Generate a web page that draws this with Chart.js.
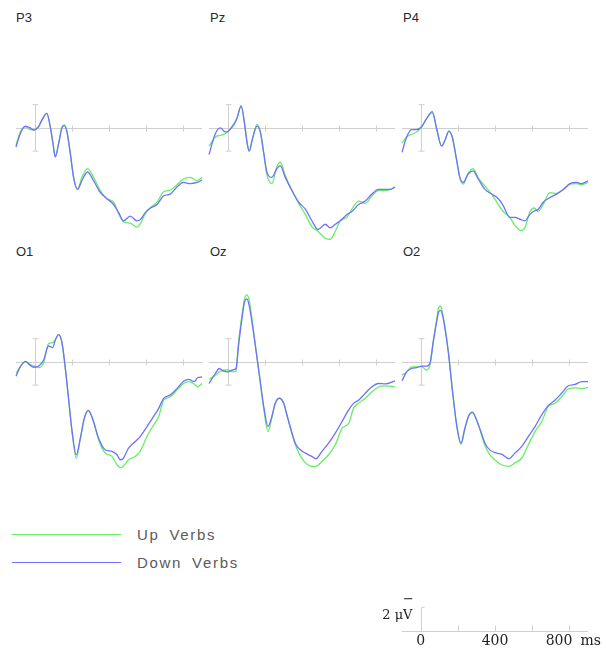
<!DOCTYPE html>
<html>
<head>
<meta charset="utf-8">
<script src="https://cdn.jsdelivr.net/npm/chart.js@4.4.1/dist/chart.umd.min.js"></script>
<style>
  body { margin: 0; background: #fff; width: 606px; height: 648px; position: relative; overflow: hidden; font-family: 'Liberation Sans', Arial, sans-serif; }
  canvas { position: absolute; }
  .chan { position: absolute; font-size: 13px; line-height: 13px; color: #2a2a2a; }
  .leg-line { position: absolute; left: 12px; width: 109px; height: 0; border-top: 1.3px solid; }
  .leg-text { position: absolute; left: 137px; font-size: 15px; line-height: 15px; letter-spacing: 1.7px; word-spacing: 4px; color: #5a5a5a; }
</style>
</head>
<body>
<div class="chan" style="left:16px; top:11px">P3</div>
<div class="chan" style="left:210px; top:11px">Pz</div>
<div class="chan" style="left:403px; top:11px">P4</div>
<div class="chan" style="left:16px; top:245px">O1</div>
<div class="chan" style="left:210px; top:245px">Oz</div>
<div class="chan" style="left:403px; top:245px">O2</div>

<div class="leg-line" style="top:534px; border-color:#66ee66"></div>
<div class="leg-text" style="top:527px">Up Verbs</div>
<div class="leg-line" style="top:562px; border-color:#7070ff"></div>
<div class="leg-text" style="top:555px">Down Verbs</div>

<script>
// ERP waveforms, microvolts (negative plotted up), time in ms
const conditions = ['Up Verbs', 'Down Verbs']
const conditionColors = ['#66ee66', '#7070ff']

const p3Times = [-100, -77, -50, -23, -5, 21, 39, 66, 84, 99, 111, 129, 147, 159, 174, 192, 210, 231, 254, 285, 317, 353, 389, 425, 452, 478, 514, 550, 568, 595, 622, 658, 694, 729, 765, 801, 837, 873, 900]
const p3Up = [1.5, 0.35, -0.1, 0.15, 0.15, -0.1, -0.67, -1.25, -0.1, 1.36, 2.5, 1.36, -0.05, -0.25, 0.3, 2.2, 4.3, 5.3, 4.25, 3.5, 4.26, 5.4, 6.1, 6.4, 7.4, 8.1, 8.2, 8.55, 8.26, 7.4, 6.9, 6.4, 5.5, 5.36, 4.9, 4.4, 4.26, 4.55, 4.26]
const p3Down = [1.65, 0.5, -0.15, 0.0, 0.2, -0.1, -0.67, -1.25, -0.1, 1.36, 2.5, 1.36, 0.0, -0.2, 0.35, 2.2, 4.3, 5.3, 4.55, 3.8, 4.55, 5.56, 6.1, 6.6, 7.3, 8.0, 7.6, 8.0, 7.9, 7.3, 6.9, 6.6, 5.85, 5.7, 5.1, 4.7, 4.8, 4.7, 4.5]

const pzTimes = [-100, -66, -39, -13, 5, 32, 50, 73, 91, 104, 116, 134, 158, 176, 194, 211, 238, 265, 283, 310, 346, 382, 418, 453, 486, 525, 552, 579, 606, 642, 668, 704, 740, 776, 812, 848, 875, 900]
const pzUp = [1.57, 0.78, 0.64, 0.5, 0.26, -0.32, -0.8, -1.9, -0.38, 1.2, 2.0, 0.9, -0.3, 0.35, 2.2, 4.0, 4.8, 3.33, 2.96, 4.1, 5.4, 6.5, 7.45, 8.5, 8.9, 9.5, 9.6, 8.9, 8.0, 7.7, 7.0, 6.3, 6.5, 5.85, 5.4, 5.4, 5.3, 5.1]
const pzDown = [2.3, 0.5, 0.0, 0.35, 0.26, -0.23, -0.8, -1.9, -0.38, 1.2, 2.0, 0.93, -0.15, 0.35, 2.1, 3.8, 4.26, 3.5, 3.25, 4.26, 5.4, 6.4, 7.0, 8.0, 8.75, 8.3, 8.6, 8.3, 8.0, 7.45, 7.2, 6.6, 6.3, 5.7, 5.3, 5.3, 5.3, 5.1]

const p4Times = [-100, -75, -48, -22, 5, 32, 63, 86, 113, 131, 152, 170, 194, 211, 229, 256, 283, 310, 346, 382, 418, 444, 480, 507, 539, 561, 588, 611, 633, 659, 695, 731, 767, 803, 839, 866, 900]
const p4Up = [1.3, 0.78, 0.55, 0.35, -0.05, -0.8, -1.3, 0.05, 1.57, 1.07, 0.25, 0.78, 2.8, 4.3, 4.84, 3.9, 3.5, 4.3, 5.0, 5.7, 6.6, 7.2, 7.7, 8.4, 8.84, 8.6, 7.2, 6.9, 7.2, 6.6, 5.57, 5.65, 5.3, 4.85, 4.8, 4.9, 4.7]
const p4Down = [2.1, 0.78, 0.15, 0.15, -0.1, -0.8, -1.4, 0.05, 1.57, 1.07, 0.3, 0.78, 2.8, 4.26, 4.7, 3.97, 3.7, 4.4, 5.3, 5.7, 6.1, 6.7, 7.7, 7.7, 7.9, 8.0, 7.45, 7.16, 7.0, 6.4, 6.0, 5.7, 5.3, 4.8, 4.7, 4.8, 4.55]

const o1Times = [-100, -77, -50, -23, -5, 22, 48, 75, 97, 111, 129, 147, 165, 183, 201, 224, 246, 267, 289, 314, 344, 380, 416, 443, 461, 475, 505, 541, 568, 604, 640, 667, 694, 729, 765, 801, 828, 858, 876, 900]
const o1Up = [1.0, 0.4, 0.0, 0.25, 0.35, 0.5, 0.1, -1.57, -1.65, -1.9, -2.34, -1.6, 0.6, 3.3, 6.0, 8.3, 6.6, 4.9, 4.15, 5.0, 6.7, 7.86, 8.14, 8.86, 9.1, 9.0, 8.43, 8.14, 7.7, 6.43, 5.43, 4.7, 3.3, 3.0, 2.43, 1.86, 1.7, 1.9, 2.14, 1.86]
const o1Down = [1.23, 0.43, -0.05, 0.3, 0.46, 0.35, -0.14, -1.37, -1.23, -1.86, -2.34, -1.7, 0.5, 3.2, 5.9, 8.0, 6.57, 4.86, 4.2, 5.0, 6.57, 7.57, 7.7, 8.0, 8.43, 8.34, 7.43, 6.86, 6.43, 5.57, 4.7, 4.0, 3.14, 2.86, 2.3, 1.66, 1.5, 1.7, 1.37, 1.3]

const ozTimes = [-100, -66, -45, -22, 2, 27, 45, 59, 77, 91, 104, 116, 131, 149, 170, 194, 217, 238, 256, 278, 301, 319, 364, 391, 418, 453, 475, 507, 543, 579, 615, 651, 677, 704, 740, 776, 812, 848, 900]
const ozUp = [1.5, 1.14, 0.86, 0.7, 0.7, 0.86, 0.8, -1.7, -4.0, -5.43, -5.77, -5.3, -3.7, -1.43, 1.1, 4.0, 6.0, 4.8, 3.6, 3.1, 3.5, 4.6, 7.14, 8.1, 8.7, 9.0, 9.0, 8.57, 8.0, 7.14, 5.7, 5.3, 4.0, 3.57, 3.14, 2.57, 2.14, 2.06, 2.14]
const ozDown = [1.86, 1.0, 0.57, 0.8, 0.86, 0.7, 0.57, -1.43, -3.7, -5.14, -5.43, -4.86, -3.43, -1.43, 1.0, 3.8, 5.57, 4.7, 3.57, 3.14, 3.57, 4.57, 7.0, 7.57, 7.86, 8.14, 8.34, 7.7, 7.0, 6.14, 5.14, 4.14, 3.57, 3.3, 2.7, 2.14, 1.86, 1.9, 1.63]

const o2Times = [-100, -75, -48, -22, 5, 32, 50, 68, 86, 97, 108, 118, 127, 149, 170, 194, 217, 238, 260, 278, 301, 324, 346, 373, 409, 435, 475, 507, 543, 579, 615, 651, 686, 722, 758, 794, 830, 866, 900]
const o2Up = [1.14, 0.86, 0.43, 0.43, 0.4, 0.7, 0.3, -1.8, -3.6, -4.7, -4.8, -4.2, -3.4, -0.9, 2.3, 5.5, 7.1, 5.8, 4.6, 4.3, 5.0, 6.1, 7.2, 8.0, 8.57, 8.86, 9.0, 8.7, 8.3, 7.14, 6.0, 5.14, 3.86, 3.57, 3.0, 2.34, 2.23, 2.3, 2.2]
const o2Down = [1.63, 0.86, 0.57, 0.5, 0.37, 0.37, 0.14, -1.7, -3.43, -4.3, -4.43, -4.0, -3.3, -0.86, 2.3, 5.43, 7.0, 5.7, 4.6, 4.34, 5.0, 6.0, 7.0, 7.6, 7.86, 7.94, 8.34, 7.86, 7.3, 6.43, 5.57, 4.57, 3.77, 3.3, 2.7, 2.06, 1.94, 1.7, 1.7]

const msTicks = [200, 400, 600, 800]
const scaleTickLabels = ['0', '400', '800']
const scaleUnit = 'ms'
const scaleBarLabel = '2 \u03bcV'
const scaleBarValue = 2

const timeMin = -100
const timeMax = 900
const uvMin = -8
const uvMax = 10

// page geometry
const UNIT = 11.6
const MS_PX = 0.186
const PAD = 10
const colLeft = [16, 209, 402]
const rowBase = [128, 361.7]

const panels = [
    { times: p3Times, up: p3Up, down: p3Down, col: 0, row: 0 },
    { times: pzTimes, up: pzUp, down: pzDown, col: 1, row: 0 },
    { times: p4Times, up: p4Up, down: p4Down, col: 2, row: 0 },
    { times: o1Times, up: o1Up, down: o1Down, col: 0, row: 1 },
    { times: ozTimes, up: ozUp, down: ozDown, col: 1, row: 1 },
    { times: o2Times, up: o2Up, down: o2Down, col: 2, row: 1 }
]

const axisGray = '#cfcfcf'

const erpAxes = {
    id: 'erpAxes',
    beforeDatasetsDraw (chart) {
        const { ctx, scales: { x, y } } = chart
        const y0 = Math.round(y.getPixelForValue(0)) + 0.5
        const x0 = Math.round(x.getPixelForValue(0)) + 0.5
        ctx.save()
        ctx.strokeStyle = axisGray
        ctx.lineWidth = 1
        ctx.beginPath()
        ctx.moveTo(x.getPixelForValue(timeMin), y0)
        ctx.lineTo(x.getPixelForValue(timeMax), y0)
        msTicks.forEach(t => {
            const px = Math.round(x.getPixelForValue(t)) + 0.5
            ctx.moveTo(px, y0 - 3)
            ctx.lineTo(px, y0 + 3)
        })
        const top = y.getPixelForValue(-scaleBarValue)
        const bot = y.getPixelForValue(scaleBarValue)
        ctx.moveTo(x0, top)
        ctx.lineTo(x0, bot)
        ctx.moveTo(x0 - 3, top)
        ctx.lineTo(x0 + 3, top)
        ctx.moveTo(x0 - 3, bot)
        ctx.lineTo(x0 + 3, bot)
        ctx.stroke()
        ctx.restore()
    }
}

const scaleBar = {
    id: 'scaleBar',
    afterDraw (chart) {
        const { ctx, scales: { x, y } } = chart
        const y0 = Math.round(y.getPixelForValue(0)) + 0.5
        const x0 = Math.round(x.getPixelForValue(0)) + 0.5
        const top = y.getPixelForValue(-scaleBarValue)
        ctx.save()
        ctx.strokeStyle = axisGray
        ctx.lineWidth = 1
        ctx.beginPath()
        ctx.moveTo(x.getPixelForValue(timeMin), y0)
        ctx.lineTo(x.getPixelForValue(timeMax), y0)
        msTicks.forEach(t => {
            const px = Math.round(x.getPixelForValue(t)) + 0.5
            ctx.moveTo(px, y0 - 6)
            ctx.lineTo(px, y0)
        })
        ctx.moveTo(x0, y0)
        ctx.lineTo(x0, top)
        ctx.lineTo(x0 + 3, top)
        ctx.stroke()

        ctx.fillStyle = '#222'
        ctx.font = '13px "DejaVu Serif", serif'
        ctx.textBaseline = 'middle'
        ctx.textAlign = 'center'
        ctx.fillText('\u2212', x0 - 13, top - 8)
        ctx.textAlign = 'right'
        ctx.fillText(scaleBarLabel, x0 - 9, y0 - 16)

        ctx.font = '14px "DejaVu Serif", serif'
        scaleTickLabels.forEach((lbl, i) => {
            const px = x.getPixelForValue(Number(lbl))
            if (i === scaleTickLabels.length - 1) {
                ctx.textAlign = 'right'
                ctx.fillText(lbl, px + 3, y0 + 10)
                ctx.textAlign = 'left'
                ctx.fillText(scaleUnit, px + 11, y0 + 10)
            } else {
                ctx.textAlign = 'center'
                ctx.fillText(lbl, px, y0 + 10)
            }
        })
        ctx.restore()
    }
}

function addCanvas (left, top, w, h) {
    const c = document.createElement('canvas')
    c.width = w
    c.height = h
    c.style.left = left + 'px'
    c.style.top = top + 'px'
    c.style.width = w + 'px'
    c.style.height = h + 'px'
    document.body.appendChild(c)
    return c
}

const baseOptions = (ymin, ymax, padding) => ({
    responsive: false,
    animation: false,
    events: [],
    layout: { padding },
    plugins: { legend: { display: false }, tooltip: { enabled: false } },
    scales: {
        x: { type: 'linear', min: timeMin, max: timeMax, display: false },
        y: { type: 'linear', min: ymin, max: ymax, reverse: true, display: false }
    }
})

const areaW = Math.round((timeMax - timeMin) * MS_PX)
const areaH = Math.round((uvMax - uvMin) * UNIT)

panels.forEach(p => {
    const left = colLeft[p.col] - PAD
    const top = Math.round(rowBase[p.row] + uvMin * UNIT) - PAD
    const cv = addCanvas(left, top, areaW + 2 * PAD, areaH + 2 * PAD)
    const series = [p.up, p.down]
    new Chart(cv, {
        type: 'line',
        data: {
            datasets: series.map((vals, i) => ({
                label: conditions[i],
                data: p.times.map((t, j) => ({ x: t, y: vals[j] })),
                borderColor: conditionColors[i],
                borderWidth: 1.3,
                pointRadius: 0,
                cubicInterpolationMode: 'monotone',
                clip: false,
                fill: false,
                order: series.length - i   // down verbs drawn on top
            }))
        },
        options: baseOptions(uvMin, uvMax, PAD),
        plugins: [erpAxes]
    })
})

// calibration bar, lined up under the right column
const sbPad = { left: 40, right: 25, top: 15, bottom: 20 }
const sbMin = -3
const sbMax = 1
const sbH = Math.round((sbMax - sbMin) * UNIT)
const sbBase = 631
const sbCanvas = addCanvas(colLeft[2] - sbPad.left, Math.round(sbBase + sbMin * UNIT) - sbPad.top,
    areaW + sbPad.left + sbPad.right, sbH + sbPad.top + sbPad.bottom)
new Chart(sbCanvas, {
    type: 'line',
    data: { datasets: [] },
    options: baseOptions(sbMin, sbMax, sbPad),
    plugins: [scaleBar]
})
</script>
</body>
</html>
